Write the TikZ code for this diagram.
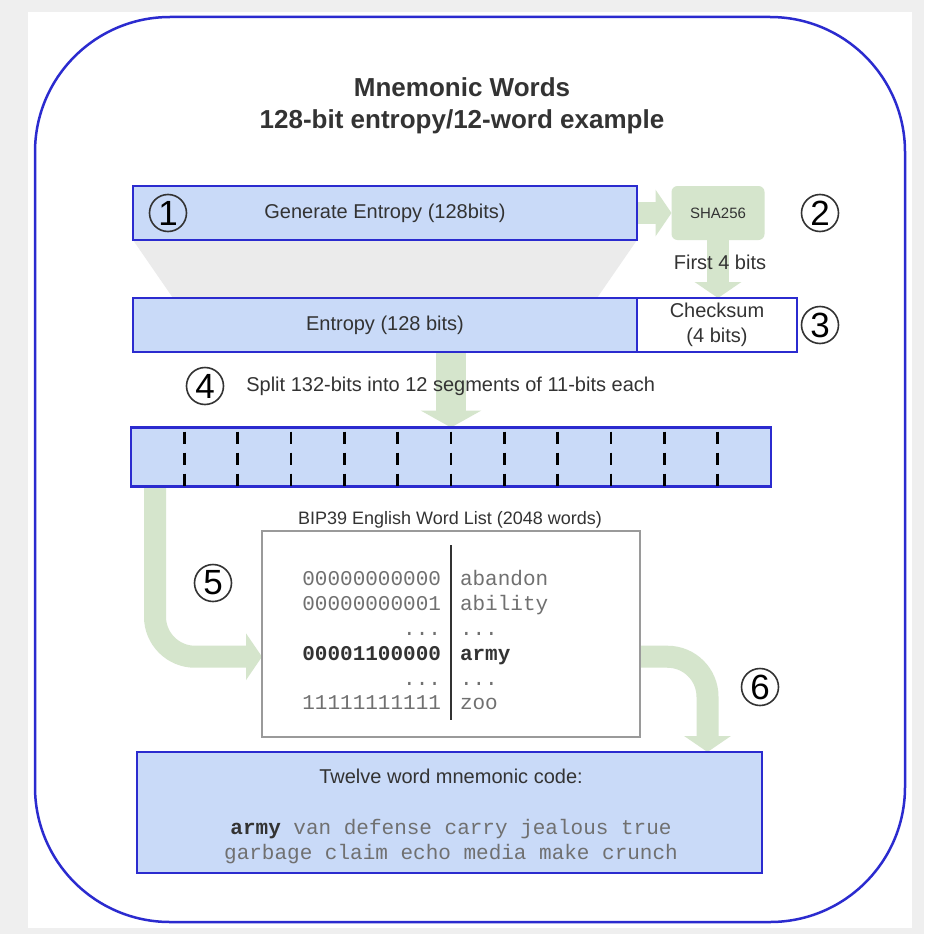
\documentclass[tikz,border=0pt]{standalone}
\usepackage{fontspec}
\setmainfont{Liberation Sans}
\setmonofont{Liberation Mono}
\usetikzlibrary{arrows.meta,backgrounds}

\definecolor{boxblue}{HTML}{C9DAF8}
\definecolor{lineblue}{HTML}{2B2BCF}
\definecolor{pale}{HTML}{D5E5CC}
\definecolor{funnel}{HTML}{EBEBEB}
\definecolor{bggray}{HTML}{EFEFEF}
\definecolor{textgray}{HTML}{333333}
\definecolor{monogray}{HTML}{707070}
\definecolor{listgray}{HTML}{9A9A9A}

\newcommand\fsz[2]{\fontsize{#1}{#2}\selectfont}
\newcommand\skiprow{...}
\newcommand\hi[1]{{\bfseries\color{textgray}#1}}

\tikzset{
  segbox/.style={draw=lineblue, line width=2.5pt, fill=boxblue, inner sep=0pt},
  shabox/.style={fill=pale, rounded corners=6pt, minimum width=93pt, minimum height=54pt, font=\fsz{15}{18}},
  num/.style={circle, draw=textgray, line width=1.6pt, minimum size=37pt, inner sep=0pt, font=\fsz{35}{35}, text=black},
  mono/.style={font=\ttfamily\fsz{21}{25}, text=monogray, inner sep=0pt},
  greenarrow/.style={draw=pale, line width=22pt, -{Triangle[width=46pt,length=16pt]}},
}

\begin{document}
\begin{tikzpicture}[x=1pt, y=-1pt, outer sep=0pt, every node/.style={text=textgray, font=\fsz{20}{25}}]
    \useasboundingbox (0,0) rectangle (924,934);
    \node[font=\bfseries\fsz{26}{32}, align=center] (title) at (462,106) {Mnemonic Words\\128-bit entropy/12-word example};
    \node[segbox, minimum width=504pt, minimum height=54pt] (gen) at (385,213) {Generate Entropy (128bits)};
    \node[shabox] (sha) at (718,213) {SHA256};
    \node (first) at (720,262) {First 4 bits};
    \node[segbox, minimum width=504pt, minimum height=54pt] (ent) at (385,325) {Entropy (128 bits)};
    \node[draw=lineblue, line width=2.5pt, fill=white, minimum width=160pt, minimum height=54pt, inner sep=0pt, align=center] (chk) at (717,325) {Checksum\\(4 bits)};
    \node[anchor=west] (split) at (243,386) {Split 132-bits into 12 segments of 11-bits each};
    \node[segbox, minimum width=640pt, minimum height=59pt] (bar) at (451,457) {};
    \foreach \i in {1,...,11}
      \draw[black, line width=2.5pt, dash pattern=on 12pt off 9pt] ([shift={(\i*53.33,4)}]bar.north west) -- ([xshift=\i*53.33pt]bar.south west);
    \node[font=\fsz{18}{22}] (bip) at (450,520) {BIP39 English Word List (2048 words)};
    \node[draw=listgray, line width=1.5pt, fill=white, minimum width=378pt, minimum height=206pt] (list) at (451,634) {};
    \draw[line width=1.5pt, textgray] ([yshift=-14pt]list.north) -- ([yshift=17pt]list.south);
    \foreach \bits/\word [count=\k] in {00000000000/abandon, 00000000001/ability, \skiprow/\skiprow, \hi{00001100000}/\hi{army}, \skiprow/\skiprow, 11111111111/zoo} {
      \node[mono, anchor=base east] (b\k) at (441,561+24.8*\k) {\bits};
      \node[mono, anchor=base west] (w\k) at (460,561+24.8*\k) {\word};
    }
    \node[segbox, minimum width=625pt, minimum height=121pt] (code) at (449.5,812.5) {};
    \node (codetitle) at (451,776) {Twelve word mnemonic code:};
    \node[mono, align=center] (words) at (451,842) {\hi{army} van defense carry jealous true\\garbage claim echo media make crunch};
    \node[num] (n1) at (168,213) {1};
    \node[num] (n2) at (820,213) {2};
    \node[num] (n3) at (820,325) {3};
    \node[num] (n4) at (205,386) {4};
    \node[num] (n5) at (213,583) {5};
    \node[num] (n6) at (760,687) {6};
    \begin{scope}[on background layer]
      \fill[bggray] (0,0) rectangle (924,934);
      \fill[white] (28,12) rectangle (912,928);
      \draw[lineblue, line width=2.5pt, rounded corners=135pt] (35,17) rectangle (905,922);
      \fill[funnel] (gen.south west) -- (gen.south east) -- ([xshift=-40pt]ent.north east) -- ([xshift=40pt]ent.north west) -- cycle;
      \draw[greenarrow] (gen.east) -- (sha.west);
      \draw[greenarrow] (sha.south) -- (sha.south |- chk.north);
      \draw[greenarrow, line width=30pt, -{Triangle[width=60pt,length=17pt]}] (bar.north |- ent.south) -- (bar.north);
      \draw[greenarrow, rounded corners=40pt] ([xshift=24pt]bar.south west) |- (list.west |- w4);
      \draw[greenarrow, rounded corners=40pt] (list.east |- w4) -| ([xshift=258pt]code.north);
    \end{scope}
\end{tikzpicture}
\end{document}
